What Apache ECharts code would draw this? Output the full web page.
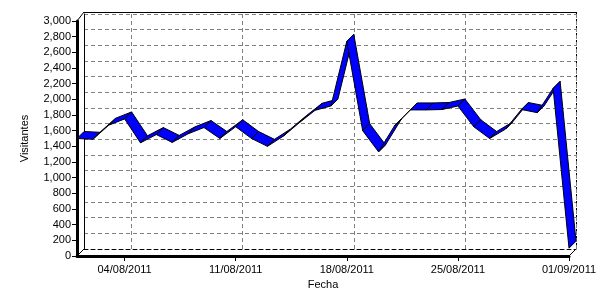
<!DOCTYPE html>
<html><head><meta charset="utf-8">
<script src="https://cdn.jsdelivr.net/npm/echarts@6/dist/echarts.min.js"></script>
<style>html,body{margin:0;padding:0;background:#fff}#c{width:600px;height:300px}</style>
</head><body><div id="c"></div>
<script>
const fechas = ['01/08/2011','02/08/2011','03/08/2011','04/08/2011','05/08/2011','06/08/2011','07/08/2011','08/08/2011',
  '09/08/2011','10/08/2011','11/08/2011','12/08/2011','13/08/2011','14/08/2011','15/08/2011','16/08/2011',
  '17/08/2011','18/08/2011','19/08/2011','20/08/2011','21/08/2011','22/08/2011','23/08/2011','24/08/2011',
  '25/08/2011','26/08/2011','27/08/2011','28/08/2011','29/08/2011','30/08/2011','31/08/2011','01/09/2011'];
const visitantes = [1500,1490,1670,1750,1445,1550,1450,1560,1640,1500,1650,1500,1400,1530,1700,1860,
  1915,2740,1600,1330,1660,1865,1865,1870,1915,1650,1500,1620,1870,1830,2140,100];
const xLabelIdx = [3,10,17,24,31];
const yMin = 0, yMax = 3000, yStep = 200;

const DX = 7, DY = -7;
const FONT = 'Liberation Sans';
const segments = [];
for (let i = 0; i < visitantes.length - 1; i++) segments.push([i, visitantes[i], i + 1, visitantes[i + 1]]);
const showIdx = (i) => xLabelIdx.indexOf(i) >= 0;
const fmt = (v) => v.toLocaleString('en-US');

const chart = echarts.init(document.getElementById('c'), null, {renderer: 'canvas'});
const dash = {color: '#808080', width: 1, type: [4, 3]};
chart.setOption({
  animation: false,
  backgroundColor: '#fff',
  grid: [
    {left: 84, right: 24, top: 14, bottom: 51},
    {left: 77, right: 31, top: 21, bottom: 44}
  ],
  xAxis: [
    {gridIndex: 0, type: 'category', data: fechas, boundaryGap: false,
     axisLine: {show: true, lineStyle: {color: '#000', width: 1, type: [4, 3]}},
     axisTick: {show: false}, axisLabel: {show: false},
     splitLine: {show: true, interval: (i) => showIdx(i), lineStyle: dash}},
    {gridIndex: 1, type: 'category', data: fechas, boundaryGap: false,
     name: 'Fecha', nameLocation: 'middle', nameGap: 21,
     nameTextStyle: {fontFamily: FONT, fontSize: 11, color: '#000'},
     axisLine: {show: true, lineStyle: {color: '#000', width: 3}},
     axisTick: {show: true, interval: (i) => showIdx(i), length: 5, lineStyle: {color: '#000'}},
     axisLabel: {show: true, interval: (i) => showIdx(i), margin: 8, fontFamily: FONT, fontSize: 11, color: '#000'},
     splitLine: {show: false}}
  ],
  yAxis: [
    {gridIndex: 0, type: 'value', min: yMin, max: yMax, interval: yStep,
     axisLine: {show: true, lineStyle: {color: '#000', width: 1}},
     axisTick: {show: false}, axisLabel: {show: false},
     splitLine: {show: true, lineStyle: dash}},
    {gridIndex: 1, type: 'value', min: yMin, max: yMax, interval: yStep,
     name: 'Visitantes', nameLocation: 'middle', nameGap: 47,
     nameTextStyle: {fontFamily: FONT, fontSize: 11, color: '#000'},
     axisLine: {show: true, lineStyle: {color: '#000', width: 3}},
     axisTick: {show: true, length: 5, lineStyle: {color: '#000'}},
     axisLabel: {show: true, margin: 6, fontFamily: FONT, fontSize: 11, color: '#000', formatter: fmt},
     splitLine: {show: false}}
  ],
  graphic: [
    {type: 'line', shape: {x1: 84, y1: 12.5, x2: 576, y2: 12.5}, style: {stroke: '#000', lineWidth: 1}},
    {type: 'line', shape: {x1: 576.5, y1: 12, x2: 576.5, y2: 249}, style: {stroke: '#000', lineWidth: 1, lineDash: [4, 3]}},
    {type: 'line', shape: {x1: 77, y1: 21, x2: 84, y2: 12}, style: {stroke: '#000', lineWidth: 1}},
    {type: 'line', shape: {x1: 77, y1: 256, x2: 84, y2: 249}, style: {stroke: '#000', lineWidth: 1}},
    {type: 'line', shape: {x1: 569, y1: 256, x2: 576, y2: 249}, style: {stroke: '#000', lineWidth: 1}}
  ],
  series: [{
    type: 'custom', xAxisIndex: 1, yAxisIndex: 1,
    data: segments,
    encode: {x: [0, 2], y: [1, 3]},
    renderItem: function (params, api) {
      const p0 = api.coord([api.value(0), api.value(1)]);
      const p1 = api.coord([api.value(2), api.value(3)]);
      return {
        type: 'polygon',
        shape: {points: [p0, p1, [p1[0] + DX, p1[1] + DY], [p0[0] + DX, p0[1] + DY]]},
        style: {fill: '#0000ff', stroke: '#000', lineWidth: 1}
      };
    }
  }]
});
</script></body></html>
